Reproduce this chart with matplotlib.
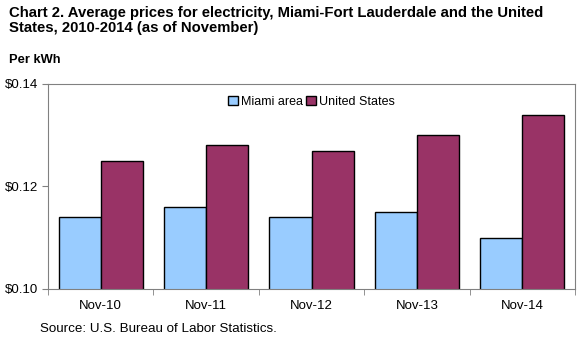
import numpy as np
import matplotlib
matplotlib.use("Agg")
import matplotlib.pyplot as plt

plt.rcParams['font.family'] = ['Liberation Sans', 'DejaVu Sans']

months = ['Nov-10', 'Nov-11', 'Nov-12', 'Nov-13', 'Nov-14']
miami = [0.114, 0.116, 0.114, 0.115, 0.110]
us = [0.125, 0.128, 0.127, 0.130, 0.134]
yticks = [0.10, 0.12, 0.14]

fig = plt.figure(figsize=(5.87, 3.41), dpi=100)
ax = fig.add_axes([0.0818, 0.1525, 0.8978, 0.6012])

x = np.arange(len(months))
w = 0.4
ax.bar(x - w / 2, miami, w, color='#99CCFF', edgecolor='black', linewidth=1, label='Miami area')
ax.bar(x + w / 2, us, w, color='#993366', edgecolor='black', linewidth=1, label='United States')

ax.set_xlim(-0.5, len(months) - 0.5)
ax.set_ylim(0.10, 0.14)
ax.set_yticks(yticks)
ax.set_yticklabels(['${:.2f}'.format(v) for v in yticks], fontsize=9.5)
ax.set_xticks(x)
ax.set_xticklabels(months, fontsize=9.5)
ax.tick_params(axis='x', length=0, pad=8)
ax.set_xticks(np.arange(-0.5, len(months)), minor=True)
ax.tick_params(axis='x', which='minor', length=4, color='#808080', direction='out')
ax.tick_params(axis='y', length=4, color='#808080', direction='out', pad=3)
for s in ax.spines.values():
    s.set_color('#808080')

ax.legend(loc='upper center', bbox_to_anchor=(0.5, 0.98), ncol=2, frameon=False,
          fontsize=9, handlelength=0.8, handleheight=0.8, handletextpad=0.2,
          columnspacing=0.3, borderaxespad=0.2)

fig.text(0.016, 0.983, 'Chart 2. Average prices for electricity, Miami-Fort Lauderdale and the United\nStates, 2010-2014 (as of November)',
         fontsize=10.7, fontweight='bold', va='top', ha='left', linespacing=1.1)
fig.text(0.016, 0.825, 'Per kWh', fontsize=9.3, fontweight='bold', va='center', ha='left')
fig.text(0.068, 0.036, 'Source: U.S. Bureau of Labor Statistics.', fontsize=9.6, va='center', ha='left')

fig.savefig('out.png', dpi=100)
